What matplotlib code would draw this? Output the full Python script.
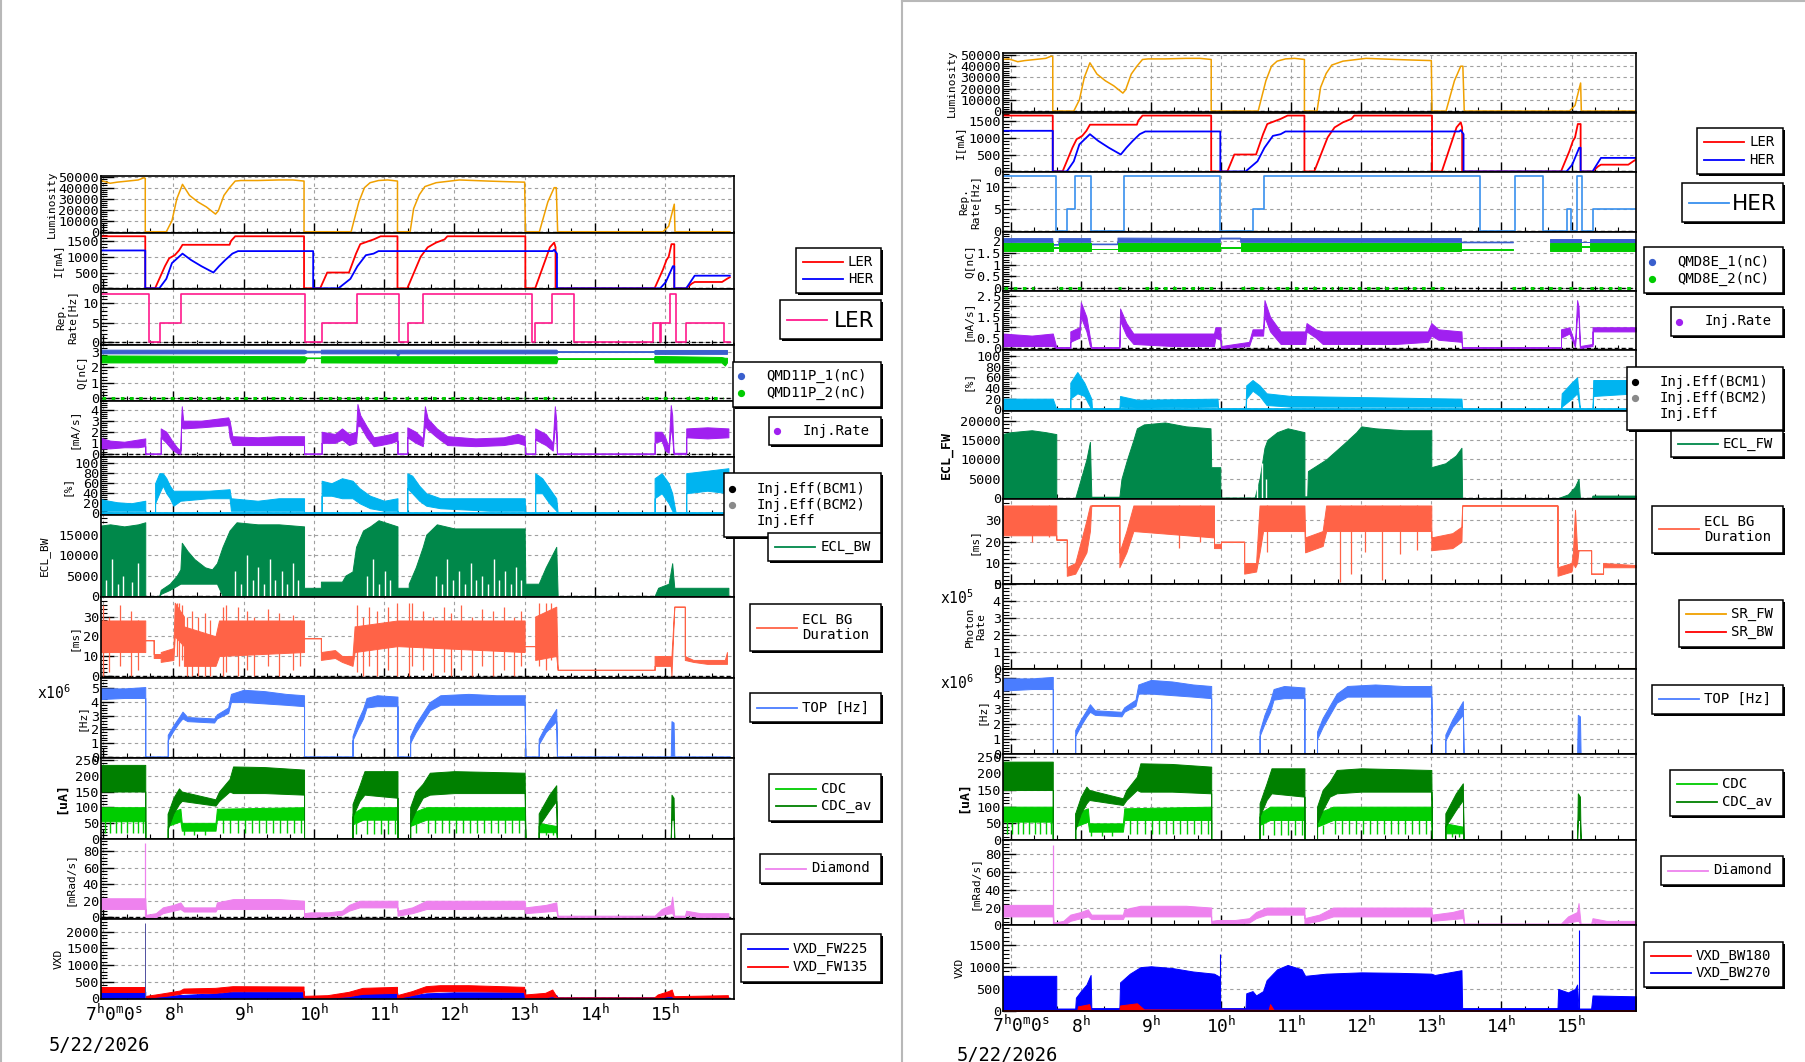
import numpy as np
import matplotlib
matplotlib.use("Agg")
import matplotlib.pyplot as plt
from matplotlib import font_manager
from matplotlib.ticker import MultipleLocator, AutoMinorLocator, NullFormatter, FuncFormatter, FixedLocator, FixedFormatter
from matplotlib.patches import Rectangle
from matplotlib.lines import Line2D

plt.rcParams['font.family'] = ['DejaVu Sans Mono']
plt.rcParams['mathtext.fontset'] = 'custom'
plt.rcParams['mathtext.rm'] = 'DejaVu Sans Mono'
plt.rcParams['mathtext.it'] = 'DejaVu Sans Mono'
plt.rcParams['mathtext.bf'] = 'DejaVu Sans Mono:bold'

nan = float('nan')

# ===================== data (time in hours, 5/22/2026) =====================
HOURS = [7, 8, 9, 10, 11, 12, 13, 14, 15]
DATE = "5/22/2026"

LUM = [(6.88, 46000), (6.97, 46500), (7.05, 45000), (7.10, 44000), (7.2, 45000), (7.35, 46000),
       (7.5, 47000), (7.58, 49000), (7.60, 48500), (7.60, 0),
       (7.90, 0), (7.98, 10000), (8.05, 30000), (8.13, 43000), (8.23, 33000), (8.35, 27000),
       (8.47, 22500), (8.60, 16000), (8.64, 19000), (8.72, 33000), (8.80, 40000), (8.88, 46000),
       (8.96, 46500), (9.2, 46500), (9.5, 47000), (9.7, 47000), (9.86, 46000), (9.86, 0),
       (10.53, 0), (10.64, 27000), (10.72, 40000), (10.80, 44500), (10.92, 46500), (11.05, 47000),
       (11.19, 46000), (11.19, 0),
       (11.37, 0), (11.42, 21000), (11.50, 33500), (11.58, 41000), (11.74, 44500), (12.07, 47000),
       (12.48, 46000), (12.72, 45500), (13.0, 45000), (13.01, 0),
       (13.21, 0), (13.33, 27000), (13.42, 40000), (13.45, 40000), (13.47, 0),
       (14.97, 0), (15.05, 5000), (15.09, 15000), (15.13, 25000), (15.14, 0), (15.92, 0)]

LER_I = [(6.88, 1650), (7.60, 1650), (7.60, 0), (7.74, 0), (7.80, 300), (7.88, 700), (7.94, 950),
         (8.02, 1050), (8.08, 1200), (8.13, 1380), (8.80, 1380), (8.82, 1500), (8.88, 1650),
         (9.86, 1650), (9.86, 0), (10.09, 0), (10.19, 500), (10.50, 500), (10.60, 1100),
         (10.66, 1400), (10.76, 1480), (10.85, 1550), (10.95, 1650), (11.19, 1650), (11.19, 0),
         (11.33, 0), (11.52, 1000), (11.62, 1300), (11.74, 1450), (11.86, 1550), (11.90, 1650),
         (13.01, 1650), (13.01, 0), (13.15, 0), (13.36, 1300), (13.42, 1450), (13.44, 1300),
         (13.44, 0), (14.85, 0), (14.97, 600), (15.02, 900), (15.05, 1000), (15.09, 1400),
         (15.13, 1400), (15.13, 0), (15.30, 0), (15.38, 150), (15.42, 200), (15.81, 200),
         (15.88, 300), (15.92, 350)]

HER_I = [(6.88, 1200), (7.60, 1200), (7.60, 0), (7.80, 0), (7.90, 300), (7.98, 800), (8.13, 1100),
         (8.25, 900), (8.40, 700), (8.57, 500), (8.65, 700), (8.74, 900), (8.84, 1100), (8.92, 1180),
         (9.99, 1180), (9.99, 0), (10.35, 0), (10.52, 300), (10.62, 700), (10.74, 1050),
         (10.85, 1100), (10.92, 1180), (13.40, 1180), (13.42, 1220), (13.46, 1100), (13.46, 0),
         (14.93, 0), (15.01, 200), (15.11, 700), (15.13, 700), (15.13, 0), (15.30, 0),
         (15.42, 400), (15.92, 400)]

REP_LER_T = [6.88, 7.66, 7.81, 8.11, 9.88, 10.12, 10.62, 11.21, 11.34, 11.56, 13.11, 13.15,
             13.39, 13.70, 14.82, 14.92, 14.94, 15.07, 15.16, 15.29, 15.84, 15.92]
REP_LER_V = [12.5, 0, 5, 12.5, 0, 5, 12.5, 0, 5, 12.5, 0, 5, 12.5, 0, 5, 0, 5, 12.5, 0, 5, 0, 0]

REP_HER_T = [6.88, 7.65, 7.81, 7.91, 8.15, 8.61, 9.99, 10.46, 10.62, 13.70, 14.19, 14.59,
             14.94, 14.99, 15.08, 15.15, 15.31, 15.92]
REP_HER_V = [12.5, 0, 5, 12.5, 0, 12.5, 0, 5, 12.5, 0, 12.5, 0, 5, 0, 12.5, 0, 5, 5]

# Q of QMD11P (left) : (t, low, high)
Q11_1 = [(6.88, 2.88, 3.12), (9.86, 2.88, 3.12), (9.9, 2.95, 3.05), (10.1, 2.95, 3.05),
         (10.1, 2.88, 3.12), (11.17, 2.88, 3.12), (11.19, 2.7, 3.1), (11.22, 2.88, 3.12),
         (13.45, 2.88, 3.12), (13.47, 2.98, 3.02), (14.84, 2.98, 3.02), (14.85, 2.85, 3.1),
         (15.88, 2.85, 3.1)]
Q11_2 = [(6.88, 2.3, 2.75), (9.86, 2.3, 2.7), (9.9, 2.58, 2.62), (10.1, 2.58, 2.62),
         (10.1, 2.3, 2.7), (13.45, 2.25, 2.7), (13.47, 2.53, 2.57), (14.84, 2.53, 2.57),
         (14.85, 2.3, 2.72), (15.8, 2.3, 2.65), (15.85, 2.1, 2.6), (15.88, 2.3, 2.6)]
Q11_ZERO = [(6.99, 7.57), (7.70, 9.86), (10.07, 11.17), (11.29, 13.0), (13.13, 13.42),
            (14.72, 15.13), (15.3, 15.83)]

# Q of QMD8E (right)
Q8_1 = [(6.88, 1.94, 2.1), (7.60, 1.94, 2.1), (7.60, 1.82, 1.85), (7.69, 1.82, 1.85),
        (7.69, 1.94, 2.1), (8.14, 1.94, 2.1), (8.14, 1.84, 1.87), (8.53, 1.84, 1.87),
        (8.53, 1.94, 2.12), (9.99, 1.94, 2.1), (9.99, 2.08, 2.12), (10.28, 2.08, 2.12),
        (10.28, 1.94, 2.1), (13.43, 1.94, 2.1), (13.43, 1.92, 1.95), (14.17, 1.92, 1.95),
        (14.17, nan, nan), (14.70, nan, nan), (14.70, 1.94, 2.1), (15.14, 1.94, 2.1),
        (15.14, 1.94, 1.97), (15.27, 1.94, 1.97), (15.27, 1.94, 2.1), (15.92, 1.94, 2.1)]
Q8_2 = [(6.88, 1.58, 1.92), (7.60, 1.58, 1.92), (7.60, 1.71, 1.74), (7.69, 1.71, 1.74),
        (7.69, 1.58, 1.92), (8.14, 1.58, 1.92), (8.14, 1.64, 1.67), (8.53, 1.64, 1.67),
        (8.53, 1.58, 1.92), (9.99, 1.58, 1.92), (9.99, 1.71, 1.74), (10.28, 1.71, 1.74),
        (10.28, 1.58, 1.92), (13.43, 1.58, 1.92), (13.43, 1.62, 1.65), (14.17, 1.62, 1.65),
        (14.17, nan, nan), (14.70, nan, nan), (14.70, 1.58, 1.92), (15.14, 1.58, 1.92),
        (15.14, 1.74, 1.77), (15.27, 1.74, 1.77), (15.27, 1.58, 1.9), (15.92, 1.58, 1.9)]
Q8_ZERO = [(6.90, 7.33), (7.69, 8.02), (8.53, 8.58), (8.92, 9.95), (10.28, 10.61),
           (10.78, 11.6), (11.68, 13.2), (14.15, 14.85), (14.97, 15.14), (15.27, 15.92)]

# injection rate [mA/s]
IR_L = [(6.88, 0.5, 1.6), (7.1, 0.5, 1.2), (7.3, 0.6, 1.1), (7.5, 0.6, 1.3), (7.6, 0.7, 1.4),
        (7.6, 0, 0.05), (7.82, 0, 0.05), (7.82, 1.5, 2.3), (7.9, 1.0, 2.0), (7.98, 0.4, 1.2),
        (8.05, 0.1, 0.6), (8.1, 0, 0.3), (8.11, 2.3, 3.0), (8.12, 2.4, 4.3), (8.14, 2.3, 3.0),
        (8.4, 2.4, 3.0), (8.78, 2.6, 3.3), (8.80, 1.5, 3.0), (8.84, 0.8, 1.6), (9.2, 0.8, 1.5),
        (9.5, 0.8, 1.6), (9.86, 0.8, 1.6), (9.86, 0, 0.05), (10.11, 0, 0.05), (10.11, 1.0, 2.0),
        (10.3, 1.0, 1.8), (10.4, 1.3, 2.3), (10.5, 0.8, 1.8), (10.6, 1.0, 2.0), (10.62, 2.5, 4.5),
        (10.66, 2.5, 3.5), (10.75, 1.5, 2.5), (10.85, 0.7, 1.5), (10.95, 0.8, 1.6),
        (11.1, 1.0, 1.8), (11.19, 1.2, 2.0), (11.19, 0, 0.05), (11.33, 0, 0.05),
        (11.33, 1.5, 2.4), (11.45, 1.0, 2.0), (11.55, 0.7, 1.4), (11.58, 2.5, 4.3),
        (11.62, 2.2, 3.2), (11.75, 1.5, 2.3), (11.9, 0.8, 1.6), (12.3, 0.7, 1.4),
        (12.7, 0.8, 1.5), (12.9, 1.0, 1.8), (13.0, 0.8, 1.6), (13.01, 0, 0.05), (13.15, 0, 0.05),
        (13.15, 1.3, 2.3), (13.3, 0.8, 1.8), (13.4, 0.3, 1.0), (13.43, 2.5, 4.3),
        (13.45, 2.0, 3.0), (13.46, 0, 0.05), (14.85, 0, 0.05), (14.85, 1.0, 2.0),
        (14.95, 1.2, 2.0), (15.0, 0.3, 1.5), (15.05, 0.1, 0.6), (15.08, 2.5, 4.4),
        (15.1, 1.5, 3.5), (15.12, 0, 0.1), (15.3, 0, 0.1), (15.3, 1.5, 2.3), (15.6, 1.4, 2.4),
        (15.9, 1.5, 2.3)]
IR_R = [(6.88, 0.1, 0.7), (7.3, 0.1, 0.6), (7.6, 0.1, 0.7), (7.65, 0, 0.05), (7.85, 0, 0.05),
        (7.85, 0.3, 0.8), (7.98, 0.5, 1.0), (8.0, 1.5, 2.2), (8.08, 0.8, 1.5), (8.13, 0.1, 0.5),
        (8.15, 0, 0.05), (8.55, 0, 0.05), (8.56, 1.3, 1.9), (8.65, 0.6, 1.2), (8.75, 0.2, 0.7),
        (9.3, 0.1, 0.7), (9.9, 0.1, 0.7), (9.92, 0.5, 1.0), (9.99, 0.4, 1.0), (10.0, 0, 0.1),
        (10.4, 0.1, 0.3), (10.45, 0.6, 0.9), (10.6, 0.6, 0.9), (10.62, 1.5, 2.3),
        (10.7, 0.8, 1.5), (10.85, 0.2, 0.8), (11.2, 0.2, 0.8), (11.22, 0.8, 1.2),
        (11.35, 0.5, 0.9), (11.45, 0.2, 0.8), (12.5, 0.2, 0.8), (12.95, 0.3, 0.8),
        (13.0, 0.6, 1.2), (13.1, 0.4, 0.9), (13.43, 0.3, 0.8), (13.44, 0, 0.05),
        (14.85, 0, 0.05), (14.85, 0.5, 0.9), (14.97, 0.7, 1.0), (15.05, 0.05, 0.2),
        (15.08, 1.6, 2.3), (15.1, 1.5, 2.0), (15.12, 0, 0.1), (15.3, 0.1, 0.2),
        (15.3, 0.8, 1.0), (15.92, 0.8, 1.0)]

# injection efficiency [%]
IE_L = [(6.88, 5, 30), (7.2, 5, 22), (7.4, 5, 20), (7.6, 5, 25), (7.6, 0, 1), (7.74, 0, 1),
        (7.74, 20, 60), (7.80, 40, 80), (7.85, 55, 80), (7.9, 40, 70), (7.95, 30, 55),
        (8.0, 15, 45), (8.1, 25, 45), (8.5, 30, 45), (8.8, 30, 48), (8.82, 5, 30), (9.2, 5, 25),
        (9.5, 5, 30), (9.86, 5, 30), (9.86, 0, 1), (10.11, 0, 1), (10.11, 35, 65),
        (10.25, 35, 60), (10.4, 30, 70), (10.55, 30, 65), (10.65, 20, 50), (10.8, 10, 35),
        (11.0, 5, 25), (11.19, 5, 30), (11.19, 0, 1), (11.33, 0, 1), (11.33, 50, 80),
        (11.4, 40, 75), (11.5, 25, 55), (11.6, 15, 40), (11.8, 10, 30), (12.5, 5, 30),
        (13.0, 5, 30), (13.01, 0, 1), (13.15, 0, 1), (13.15, 40, 80), (13.25, 40, 70),
        (13.35, 20, 50), (13.45, 5, 30), (13.47, 0, 1), (14.85, 0, 1), (14.85, 30, 70),
        (14.95, 40, 80), (15.05, 20, 60), (15.1, 5, 40), (15.15, 0, 1), (15.3, 0, 1),
        (15.3, 40, 80), (15.6, 45, 85), (15.9, 40, 90)]
IE_R = [(6.88, 0, 20), (7.6, 0, 20), (7.65, 0, 1), (7.85, 0, 1), (7.85, 20, 50), (7.95, 30, 70),
        (8.05, 25, 50), (8.15, 0, 20), (8.16, 0, 1), (8.55, 0, 1), (8.56, 5, 25), (8.8, 3, 18),
        (9.95, 5, 20), (9.96, 0, 1), (10.35, 0, 1), (10.36, 20, 45), (10.45, 35, 55),
        (10.55, 25, 45), (10.65, 8, 30), (11.0, 5, 25), (13.43, 5, 20), (13.44, 0, 1),
        (14.85, 0, 1), (14.86, 5, 30), (15.0, 20, 50), (15.08, 30, 60), (15.12, 0, 1),
        (15.3, 0, 1), (15.31, 25, 55), (15.92, 30, 55)]

# ECL
ECL_BW = [(6.88, 0, 17000), (7.1, 0, 17500), (7.3, 0, 17000), (7.5, 0, 17500), (7.6, 0, 18000),
          (7.6, 0, 0), (7.80, 0, 0), (7.82, 500, 1500), (7.95, 1500, 3000), (8.05, 2500, 5000),
          (8.10, 3000, 6500), (8.12, 3000, 13000), (8.2, 3000, 11000), (8.3, 3000, 9000),
          (8.45, 3000, 7000), (8.55, 3000, 6500), (8.62, 3000, 8000), (8.7, 0, 12000),
          (8.8, 0, 16000), (8.9, 0, 18000), (9.2, 0, 17500), (9.5, 0, 17500), (9.86, 0, 17000),
          (9.86, 0, 2000), (10.1, 0, 2000), (10.1, 0, 3500), (10.4, 0, 3500), (10.45, 0, 5000),
          (10.55, 0, 6000), (10.6, 0, 12000), (10.7, 0, 16000), (10.8, 0, 17000),
          (10.92, 0, 18500), (11.19, 0, 17000), (11.19, 0, 2000), (11.35, 0, 2000),
          (11.35, 0, 3000), (11.45, 0, 7000), (11.55, 0, 12000), (11.6, 0, 15000),
          (11.75, 0, 17500), (12.0, 0, 16500), (12.5, 0, 16500), (13.0, 0, 16500),
          (13.01, 0, 3000), (13.2, 0, 3000), (13.3, 0, 7000), (13.45, 0, 12000), (13.47, 0, 0),
          (14.85, 0, 0), (14.9, 0, 2000), (15.05, 0, 3000), (15.1, 0, 8000), (15.13, 0, 2000),
          (15.3, 0, 2000), (15.9, 0, 2000)]
# white gaps seen inside the ECL_BW fill: (t, from, to)
ECL_BW_GAPS = [(7.04, 0, 4000), (7.12, 0, 9000), (7.21, 0, 3000), (7.29, 0, 5000), (7.41, 0, 3500),
               (7.49, 0, 8000), (8.88, 0, 6000), (8.96, 0, 3000), (9.05, 0, 10000), (9.13, 0, 4000),
               (9.21, 0, 7000), (9.29, 0, 3000), (9.37, 0, 9000), (9.45, 0, 4000), (9.54, 0, 6000),
               (9.62, 0, 3000), (9.70, 0, 8000), (9.78, 0, 4000), (10.76, 0, 5000), (10.84, 0, 9000),
               (10.92, 0, 3000), (11.01, 0, 6000), (11.09, 0, 4000), (11.74, 0, 5000),
               (11.82, 0, 3000), (11.90, 0, 9000), (11.98, 0, 4000), (12.07, 0, 6000),
               (12.15, 0, 3000), (12.23, 0, 8000), (12.31, 0, 4000), (12.39, 0, 5000),
               (12.48, 0, 3000), (12.56, 0, 9000), (12.64, 0, 4000), (12.72, 0, 6000),
               (12.80, 0, 3000), (12.88, 0, 7000), (12.95, 0, 4000)]
ECL_FW = [(6.88, 0, 16500), (7.0, 0, 17000), (7.3, 0, 17500), (7.5, 0, 17000), (7.65, 0, 16500),
          (7.65, 0, 0), (7.92, 0, 0), (8.0, 0, 5000), (8.08, 0, 10000), (8.13, 0, 14500),
          (8.15, 200, 400), (8.55, 200, 400), (8.58, 0, 5000), (8.66, 0, 10000),
          (8.75, 0, 15000), (8.8, 0, 18000), (8.9, 0, 19000), (9.2, 0, 19500), (9.5, 0, 18500),
          (9.85, 0, 18000), (9.86, 0, 8000), (9.99, 0, 8000), (9.99, 0, 200), (10.48, 0, 200),
          (10.55, 0, 5000), (10.62, 0, 13000), (10.66, 0, 15000), (10.8, 0, 17000),
          (10.95, 0, 18000), (11.19, 0, 17000), (11.19, 0, 500), (11.23, 0, 500),
          (11.24, 0, 7000), (11.5, 0, 10000), (11.75, 0, 14000), (11.93, 0, 17000),
          (12.0, 0, 18500), (12.2, 0, 18000), (12.6, 0, 17500), (13.0, 0, 17500),
          (13.0, 0, 8000), (13.2, 0, 9000), (13.35, 0, 11000), (13.43, 0, 13000),
          (13.44, 0, 0), (14.8, 0, 0), (14.95, 0, 1000), (15.05, 0, 3000), (15.1, 0, 5000),
          (15.12, 0, 0), (15.28, 0, 0), (15.3, 0, 700), (15.92, 0, 700)]
ECL_FW_GAPS = [(10.52, 0, 4000), (10.58, 0, 9000), (10.64, 0, 5000)]

# ECL BG duration [ms]
MS_L = [(6.88, 12, 28), (7.6, 12, 28), (7.6, 18, 18), (7.72, 18, 18), (7.72, 9, 11),
        (7.82, 9, 11), (7.82, 7, 12), (8.0, 8, 14), (8.02, 20, 37), (8.15, 15, 30),
        (8.15, 5, 25), (8.6, 5, 20), (8.65, 10, 28), (9.86, 12, 28), (9.86, 19, 19),
        (10.1, 19, 19), (10.1, 8, 12), (10.3, 9, 13), (10.4, 7, 10), (10.55, 5, 10),
        (10.58, 12, 25), (11.19, 15, 28), (13.0, 12, 28), (13.0, 15, 15), (13.15, 15, 15),
        (13.15, 8, 30), (13.45, 10, 35), (13.47, 3, 3), (14.85, 3, 3), (14.85, 5, 10),
        (15.08, 5, 10), (15.09, 0, 10), (15.13, 35, 35), (15.28, 35, 35), (15.28, 8, 10),
        (15.4, 7, 8), (15.6, 6, 8), (15.85, 6, 8), (15.88, 6, 12)]
MS_L_SPK = [(7.0, 0, 36), (7.08, 2, 30), (7.24, 5, 36), (7.4, 0, 33), (7.5, 3, 28), (8.05, 10, 37),
            (8.08, 5, 37), (8.12, 8, 36), (8.2, 0, 30), (8.27, 0, 33), (8.35, 0, 30),
            (8.45, 0, 32), (8.52, 0, 28), (8.7, 0, 35), (8.75, 2, 36), (8.92, 0, 35),
            (9.05, 3, 33), (9.15, 0, 30), (9.35, 5, 34), (9.5, 0, 32), (9.7, 3, 31),
            (9.8, 5, 28), (10.62, 2, 36), (10.7, 0, 30), (10.78, 5, 35), (10.9, 0, 33),
            (11.05, 3, 35), (11.18, 0, 37), (11.36, 0, 37), (11.4, 5, 37), (11.55, 3, 33),
            (11.7, 0, 30), (11.85, 2, 35), (11.95, 0, 32), (12.1, 3, 36), (12.25, 0, 30),
            (12.4, 5, 34), (12.55, 0, 33), (12.7, 3, 35), (12.85, 0, 30), (12.95, 5, 33),
            (13.2, 5, 37), (13.3, 3, 37), (13.38, 8, 37)]
MS_R = [(6.88, 23, 37), (7.65, 23, 37), (7.65, 21, 21), (7.8, 21, 21), (7.8, 4, 8), (7.92, 5, 10),
        (8.0, 10, 20), (8.08, 15, 30), (8.13, 25, 37), (8.15, 37, 37), (8.55, 37, 37),
        (8.55, 8, 15), (8.65, 15, 25), (8.75, 25, 37), (9.9, 22, 37), (9.9, 17, 19),
        (10.0, 17, 19), (10.0, 20, 20), (10.33, 20, 20), (10.33, 5, 10), (10.5, 6, 10),
        (10.55, 15, 37), (10.6, 25, 37), (11.19, 25, 37), (11.2, 15, 22), (11.45, 18, 25),
        (11.5, 25, 37), (13.0, 25, 37), (13.0, 16, 22), (13.3, 17, 24), (13.43, 20, 27),
        (13.44, 37, 37), (14.8, 37, 37), (14.8, 4, 8), (15.0, 6, 10), (15.02, 10, 15),
        (15.05, 8, 35), (15.08, 10, 16), (15.1, 16, 16), (15.28, 16, 16), (15.28, 5, 5),
        (15.45, 5, 5), (15.45, 8, 10), (15.92, 8, 9)]
MS_R_SPK = [(7.3, 20, 37), (7.55, 22, 37), (9.4, 17, 37), (9.7, 20, 37), (10.65, 15, 37),
            (11.7, 1, 37), (11.85, 5, 37), (12.05, 15, 37), (12.3, 2, 37), (12.55, 14, 37),
            (12.8, 16, 37)]

# photon rate (x1e5) - flat at 0
SR_FW = [(6.88, 0), (15.92, 0)]

# TOP [Hz] x1e6
TOP = [(6.88, 4.2, 5.0), (7.3, 4.3, 5.0), (7.6, 4.3, 5.1), (7.6, 0, 0), (7.92, 0, 0),
       (7.92, 1.2, 1.6), (8.0, 1.9, 2.3), (8.08, 2.5, 2.9), (8.13, 2.8, 3.3), (8.2, 2.6, 2.9),
       (8.58, 2.5, 2.8), (8.62, 2.8, 3.1), (8.78, 3.2, 3.6), (8.82, 4.0, 4.6), (9.0, 4.0, 4.9),
       (9.3, 3.9, 4.8), (9.6, 3.8, 4.6), (9.86, 3.7, 4.5), (9.86, 0, 0), (10.55, 0, 0),
       (10.55, 1.2, 1.5), (10.62, 2.0, 2.6), (10.7, 2.8, 3.5), (10.75, 3.6, 4.3),
       (10.9, 3.7, 4.5), (11.19, 3.7, 4.4), (11.19, 0, 0), (11.37, 0, 0), (11.37, 1.0, 1.5),
       (11.45, 1.8, 2.4), (11.55, 2.6, 3.2), (11.65, 3.4, 4.0), (11.8, 3.8, 4.5),
       (12.2, 3.8, 4.6), (12.6, 3.8, 4.5), (13.0, 3.8, 4.5), (13.01, 0, 0), (13.2, 0, 0),
       (13.2, 0.9, 1.3), (13.3, 1.8, 2.3), (13.45, 2.6, 3.5), (13.46, 0, 0), (15.08, 0, 0),
       (15.09, 0, 2.6), (15.12, 0, 2.5), (15.13, 0, 0), (15.92, 0, 0)]

# CDC [uA]
CDC = [(6.88, 55, 100), (7.6, 55, 100), (7.6, 0, 0), (7.92, 0, 0), (7.92, 40, 80), (8.1, 55, 95),
       (8.12, 25, 50), (8.6, 25, 50), (8.62, 60, 95), (9.86, 60, 100), (9.86, 0, 0),
       (10.55, 0, 0), (10.55, 45, 80), (10.7, 60, 100), (11.19, 60, 100), (11.19, 0, 0),
       (11.37, 0, 0), (11.37, 40, 80), (11.6, 60, 100), (13.0, 60, 100), (13.01, 0, 0),
       (13.2, 0, 0), (13.2, 20, 50), (13.45, 20, 40), (13.46, 0, 0), (15.92, 0, 0)]
CDC_SPK = [(6.95, 18, 60), (7.02, 18, 60), (7.1, 18, 60), (7.18, 18, 60), (7.26, 18, 60),
           (7.34, 18, 60), (7.42, 18, 60), (7.5, 18, 60), (7.57, 18, 60), (8.15, 12, 30),
           (8.3, 12, 30), (8.45, 12, 30), (8.7, 18, 62), (8.8, 18, 62), (8.92, 18, 62),
           (9.02, 18, 62), (9.12, 18, 62), (9.22, 18, 62), (9.32, 18, 62), (9.42, 18, 62),
           (9.52, 18, 62), (9.62, 18, 62), (9.72, 18, 62), (9.82, 18, 62), (10.6, 15, 50),
           (10.75, 15, 62), (10.85, 15, 62), (10.95, 15, 62), (11.05, 15, 62), (11.15, 15, 62),
           (11.45, 18, 45), (11.62, 18, 62), (11.72, 18, 62), (11.82, 18, 62), (11.92, 18, 62),
           (12.02, 18, 62), (12.12, 18, 62), (12.22, 18, 62), (12.32, 18, 62), (12.42, 18, 62),
           (12.52, 18, 62), (12.62, 18, 62), (12.72, 18, 62), (12.82, 18, 62), (12.92, 18, 62),
           (13.3, 10, 25), (13.4, 10, 25)]
CDC_AV = [(6.88, 150, 235), (7.6, 150, 235), (7.6, 0, 0), (7.92, 0, 0), (7.92, 30, 80),
          (8.0, 80, 130), (8.08, 110, 160), (8.12, 120, 150), (8.6, 105, 125), (8.65, 120, 150),
          (8.8, 150, 190), (8.85, 145, 230), (9.3, 145, 228), (9.86, 140, 220), (9.86, 0, 0),
          (10.55, 0, 0), (10.55, 70, 110), (10.65, 120, 170), (10.72, 140, 215),
          (11.19, 130, 215), (11.19, 0, 0), (11.37, 0, 0), (11.37, 50, 100), (11.45, 90, 150),
          (11.55, 130, 175), (11.65, 140, 210), (12.0, 145, 215), (13.0, 145, 210),
          (13.01, 0, 0), (13.2, 0, 0), (13.2, 40, 80), (13.35, 90, 140), (13.45, 120, 170),
          (13.46, 0, 0), (15.08, 0, 0), (15.09, 60, 140), (15.12, 60, 130), (15.13, 0, 0),
          (15.92, 0, 0)]

# Diamond [mRad/s]
DIAMOND = [(6.88, 10, 23), (7.6, 10, 23), (7.61, 0, 3), (7.75, 0, 5), (7.85, 5, 12),
           (8.0, 8, 15), (8.1, 10, 18), (8.15, 7, 12), (8.6, 7, 12), (8.62, 10, 18),
           (8.85, 10, 22), (9.5, 10, 22), (9.86, 10, 20), (9.86, 0, 5), (9.95, 0, 6),
           (10.2, 2, 6), (10.4, 3, 8), (10.5, 8, 15), (10.65, 12, 20), (11.19, 12, 20),
           (11.19, 2, 8), (11.4, 5, 12), (11.6, 10, 20), (12.0, 10, 20), (13.0, 10, 20),
           (13.01, 5, 12), (13.3, 7, 15), (13.45, 8, 18), (13.47, 0, 2), (14.85, 0, 2),
           (14.95, 3, 10), (15.08, 5, 15), (15.1, 5, 25), (15.13, 0, 2), (15.28, 0, 2),
           (15.3, 3, 8), (15.5, 0, 5), (15.9, 0, 5)]
DIAMOND_SPK = [(7.6, 0, 90)]

# VXD
VXD_FW225 = [(6.88, 0, 200), (7.6, 0, 200), (7.6, 0, 50), (7.75, 0, 50), (8.1, 0, 100),
             (8.6, 0, 150), (8.85, 0, 200), (9.86, 0, 200), (9.86, 0, 30), (10.5, 0, 50),
             (10.7, 0, 150), (11.19, 0, 150), (11.19, 0, 30), (11.6, 0, 150), (12.0, 0, 180),
             (13.0, 0, 180), (13.01, 0, 60), (13.45, 0, 100), (13.47, 0, 30), (14.85, 0, 30),
             (15.1, 0, 100), (15.13, 0, 30), (15.9, 0, 30)]
VXD_FW135 = [(6.88, 180, 350), (7.6, 180, 350), (7.6, nan, nan), (7.62, 0, 60), (7.75, 30, 100),
             (7.9, 60, 150), (8.1, 120, 220), (8.15, 150, 280), (8.6, 150, 300), (8.85, 200, 350),
             (9.86, 200, 340), (9.86, 0, 60), (10.2, 0, 80), (10.5, 50, 180), (10.7, 120, 300),
             (11.19, 150, 330), (11.19, 0, 80), (11.4, 80, 200), (11.6, 180, 350),
             (11.8, 200, 380), (12.2, 200, 380), (13.0, 180, 330), (13.01, 0, 100),
             (13.3, 20, 150), (13.4, 50, 250), (13.47, 0, 10), (14.85, 0, 10), (14.9, 0, 100),
             (15.05, 50, 200), (15.1, 50, 250), (15.13, 0, 50), (15.9, 0, 80)]
VXD_L_SPK = [(7.6, 0, 2250)]
VXD_BW270 = [(6.88, 0, 800), (7.65, 0, 800), (7.65, 0, 50), (7.92, 0, 50), (7.93, 0, 300),
             (8.0, 0, 450), (8.08, 0, 600), (8.14, 0, 820), (8.15, 0, 60), (8.55, 0, 60),
             (8.56, 0, 650), (8.7, 0, 850), (8.85, 0, 1000), (9.0, 0, 1020), (9.3, 0, 980),
             (9.6, 0, 900), (9.9, 0, 850), (9.98, 0, 780), (9.99, 0, 60), (10.35, 0, 60),
             (10.36, 0, 400), (10.45, 0, 450), (10.5, 0, 350), (10.6, 0, 450), (10.65, 0, 700),
             (10.8, 0, 950), (10.95, 0, 1050), (11.05, 0, 1000), (11.15, 0, 950),
             (11.2, 0, 800), (11.5, 0, 850), (12.0, 0, 880), (12.5, 0, 870), (13.0, 0, 850),
             (13.05, 0, 820), (13.43, 0, 930), (13.44, 0, 60), (14.8, 0, 60), (14.81, 0, 500),
             (14.95, 0, 420), (15.05, 0, 500), (15.08, 0, 600), (15.1, 0, 50), (15.28, 0, 50),
             (15.3, 0, 350), (15.92, 0, 330)]
VXD_BW270_SPK = [(9.99, 0, 1300), (15.1, 0, 1850)]
VXD_BW180 = [(6.88, 0, 10), (7.95, 0, 10), (7.96, 0, 100), (8.12, 0, 150), (8.14, 0, 10),
             (8.55, 0, 10), (8.56, 0, 120), (8.8, 0, 170), (8.9, 0, 30), (10.68, 0, 20),
             (10.7, 0, 150), (10.75, 0, 20), (15.92, 0, 10)]

# ===================== colours =====================
C_LUM = '#f0a000'
C_LER = '#ff0000'
C_HER = '#0000ff'
C_REPL = '#ff1a8c'
C_REPH = '#3890ee'
C_Q1 = '#3a5fcd'
C_Q2 = '#00cc00'
C_IR = '#a020f0'
C_IE = '#00b4f0'
C_ECL = '#00884a'
C_MS = '#ff6347'
C_TOP = '#4a7dff'
C_CDC = '#00cc00'
C_CDCAV = '#008000'
C_DIA = '#ee82ee'

# narrow font for the big ring legends, if available
try:
    font_manager.findfont('Liberation Sans Narrow', fallback_to_default=False)
    BIG_FAMILY, BIG_FS = 'Liberation Sans Narrow', 18.5
except Exception:
    BIG_FAMILY, BIG_FS = 'DejaVu Sans', 15.5

# ===================== figure =====================
W, H = 1806, 1062
fig = plt.figure(figsize=(W / 100, H / 100), dpi=100)
fig.patch.set_facecolor('white')


def fx(px):
    return px / W


def fy(py):
    return 1 - py / H


def arr(rows):
    return np.array(rows, dtype=float).T


def band(ax, rows, color, z=2, lw=0.7):
    t, lo, hi = arr(rows)
    ax.fill_between(t, lo, hi, facecolor=color, edgecolor=color, lw=lw, zorder=z)


def line(ax, rows, color, lw=1.2, z=3):
    t, v = arr(rows)
    ax.plot(t, v, color=color, lw=lw, zorder=z)


def spikes(ax, rows, color, lw=0.9, z=2):
    t, lo, hi = arr(rows)
    ax.vlines(t, lo, hi, color=color, lw=lw, zorder=z)


def zero_dots(ax, segs, y, color):
    for a, b in segs:
        ax.plot([a, b], [y, y], color=color, lw=2.2, ls=(0, (1.2, 1.8)), zorder=3)


fmt = FuncFormatter(lambda v, p: '%g' % v)


def style(ax, xlim, ylim, major, bottom=False):
    ax.set_xlim(*xlim)
    ax.set_ylim(*ylim)
    ax.yaxis.set_major_locator(MultipleLocator(major))
    ax.yaxis.set_minor_locator(AutoMinorLocator(5))
    ax.yaxis.set_major_formatter(fmt)
    ax.xaxis.set_major_locator(FixedLocator(HOURS))
    ax.xaxis.set_minor_locator(MultipleLocator(1 / 3))
    ax.tick_params(axis='y', which='major', direction='in', length=9, width=1,
                   labelsize=9.7, pad=1.5, left=True, right=False)
    ax.tick_params(axis='y', which='minor', direction='in', length=4.5, width=0.8,
                   left=True, right=False)
    ax.tick_params(axis='x', which='major', direction='in', length=7, width=1,
                   top=False, bottom=True, pad=3.5, labelsize=13)
    ax.tick_params(axis='x', which='minor', direction='in', length=3.5, width=0.8,
                   top=False, bottom=True)
    ax.grid(True, which='major', color='#a0a0a0', ls=(0, (3, 3)), lw=0.8)
    ax.set_axisbelow(True)
    ax.axhline(0, color='black', lw=1, ls=(0, (3, 2)), zorder=1)
    for s in ax.spines.values():
        s.set_linewidth(1.2)
        s.set_zorder(5)
    if bottom:
        ax.xaxis.set_major_formatter(FixedFormatter(
            ['' if h == 7 else r'$%d^{h}$' % h for h in HOURS]))
    else:
        ax.xaxis.set_major_formatter(NullFormatter())


def ylab(px, py, text, fs=8, bold=False):
    fig.text(fx(px), fy(py), text, rotation=90, ha='center', va='center', fontsize=fs,
             fontweight='bold' if bold else 'normal', multialignment='center')


def box(x0, y0, x1, y1):
    fig.add_artist(Rectangle((fx(x0 + 2), fy(y1 + 2)), (x1 - x0) / W, (y1 - y0) / H,
                             transform=fig.transFigure, facecolor='black',
                             edgecolor='none', zorder=20))
    fig.add_artist(Rectangle((fx(x0), fy(y1)), (x1 - x0) / W, (y1 - y0) / H,
                             transform=fig.transFigure, facecolor='white',
                             edgecolor='black', lw=1.1, zorder=21))


def legend(x0, y0, x1, y1, entries, fs=10.1):
    box(x0, y0, x1, y1)
    n = len(entries)
    for i, (kind, color, text) in enumerate(entries):
        yc = y0 + (y1 - y0) * (0.12 + 0.76 * (i + 0.5) / n) if n > 1 else (y0 + y1) / 2
        if kind == 'line':
            fig.add_artist(Line2D([fx(x0 + 7), fx(x0 + 47)], [fy(yc), fy(yc)], color=color,
                                  lw=1.3, transform=fig.transFigure, zorder=22))
            tx = x0 + 52
        else:
            if kind == 'marker':
                fig.add_artist(Line2D([fx(x0 + 8)], [fy(yc)], marker='o', ms=4.2, color=color,
                                      lw=0, transform=fig.transFigure, zorder=22))
            tx = x0 + 33
        fig.text(fx(tx), fy(yc), text, ha='left', va='center', fontsize=fs,
                 multialignment='left', linespacing=1.15, zorder=23)


def big_legend(x0, y0, x1, y1, color, text):
    box(x0, y0, x1, y1)
    yc = (y0 + y1) / 2
    fig.add_artist(Line2D([fx(x0 + 7), fx(x0 + 47)], [fy(yc), fy(yc)], color=color, lw=1.3,
                          transform=fig.transFigure, zorder=22))
    fig.text(fx(x1 - 6), fy(yc + 1), text, ha='right', va='center', fontsize=BIG_FS,
             family=BIG_FAMILY, zorder=23)


def make_axes(x0, x1, top, bot):
    return fig.add_axes([fx(x0), fy(bot), (x1 - x0) / W, (bot - top) / H])


# ---------------- LEFT column ----------------
LX0, LX1 = 101, 734
LXL = (6.97, 15.98)
LB = [176, 232.5, 288.7, 344.5, 400.7, 456.7, 514.5, 597, 677.5, 758, 838.5, 918.5, 999]
la = [make_axes(LX0, LX1, LB[i], LB[i + 1]) for i in range(12)]

ax = la[0]
style(ax, LXL, (-700, 50600), 10000)
line(ax, LUM, C_LUM, lw=1.1)
ax = la[1]
style(ax, LXL, (-13, 1770), 500)
line(ax, LER_I, C_LER, lw=1.3)
line(ax, HER_I, C_HER, lw=1.3)
ax = la[2]
style(ax, LXL, (-0.7, 13.8), 5)
ax.plot(REP_LER_T, REP_LER_V, color=C_REPL, lw=1.2, drawstyle='steps-post', zorder=3)
ax = la[3]
style(ax, LXL, (-0.15, 3.45), 1)
band(ax, Q11_1, C_Q1)
band(ax, Q11_2, C_Q2)
zero_dots(ax, Q11_ZERO, 0.05, C_Q2)
ax = la[4]
style(ax, LXL, (-0.25, 4.8), 1)
band(ax, IR_L, C_IR)
ax = la[5]
style(ax, LXL, (-2.5, 113), 20)
ax.plot([6.88, 15.92], [0.5, 0.5], color=C_IE, lw=2, zorder=2)
band(ax, IE_L, C_IE)
ax = la[6]
style(ax, LXL, (-250, 19900), 5000)
band(ax, ECL_BW, C_ECL)
spikes(ax, ECL_BW_GAPS, 'white', lw=1.0, z=2.5)
ax = la[7]
style(ax, LXL, (-0.9, 39.9), 10)
spikes(ax, MS_L_SPK, C_MS)
band(ax, MS_L, C_MS)
ax = la[8]
style(ax, LXL, (-0.1, 5.8), 1)
band(ax, TOP, C_TOP)
ax = la[9]
style(ax, LXL, (0, 257), 50)
band(ax, CDC, C_CDC)
spikes(ax, CDC_SPK, C_CDC, lw=1.0)
band(ax, CDC_AV, C_CDCAV)
ax = la[10]
style(ax, LXL, (-1.4, 95), 20)
band(ax, DIAMOND, C_DIA)
spikes(ax, DIAMOND_SPK, C_DIA)
ax = la[11]
style(ax, LXL, (-20, 2400), 500, bottom=True)
band(ax, VXD_FW225, C_HER)
band(ax, VXD_FW135, C_LER)
spikes(ax, VXD_L_SPK, '#5050a0', lw=0.7)

lcx = [51.7, 58.3, 66.7, 81.7, 73.3, 66.7, 44, 73.3, 81.7, 61.7, 70, 58.3]
ltx = ['Luminosity', 'I[mA]', 'Rep.\nRate[Hz]', 'Q[nC]', '[mA/s]', '[%]', 'ECL_BW', '[ms]',
       '[Hz]', '[uA]', '[mRad/s]', 'VXD']
for i in range(12):
    bold = ltx[i] == '[uA]'
    ylab(lcx[i], (LB[i] + LB[i + 1]) / 2, ltx[i], fs=9.5 if bold else 8, bold=bold)
fig.text(fx(37), fy(693), r'x10$^{6}$', ha='left', va='center', fontsize=10.5)
fig.text(fx(85), fy(1004), r'$7^{h}0^{m}0^{s}$', ha='left', va='top', fontsize=13)
fig.text(fx(49), fy(1036), DATE, ha='left', va='top', fontsize=13.5)

# ---------------- RIGHT column ----------------
RX0, RX1 = 1003, 1636
RXL = (6.89, 15.92)
RB = [53.3, 112.5, 172.3, 231.5, 290.5, 350.2, 410.8, 499.3, 584.3, 669.3, 754.3, 840,
      925.3, 1010.7]
ra = [make_axes(RX0, RX1, RB[i], RB[i + 1]) for i in range(13)]

ax = ra[0]
style(ax, RXL, (-1300, 51500), 10000)
line(ax, LUM, C_LUM, lw=1.1)
ax = ra[1]
style(ax, RXL, (-25, 1740), 500)
line(ax, LER_I, C_LER, lw=1.3)
line(ax, HER_I, C_HER, lw=1.3)
ax = ra[2]
style(ax, RXL, (-0.2, 13.3), 5)
ax.plot(REP_HER_T, REP_HER_V, color=C_REPH, lw=1.2, drawstyle='steps-post', zorder=3)
ax = ra[3]
style(ax, RXL, (-0.1, 2.4), 0.5)
band(ax, Q8_1, C_Q1)
band(ax, Q8_2, C_Q2)
zero_dots(ax, Q8_ZERO, 0.02, C_Q2)
ax = ra[4]
style(ax, RXL, (-0.1, 2.76), 0.5)
band(ax, IR_R, C_IR)
ax = ra[5]
style(ax, RXL, (-2.8, 111), 20)
ax.plot([6.88, 15.92], [0.5, 0.5], color=C_IE, lw=2, zorder=2)
band(ax, IE_R, C_IE)
ax = ra[6]
style(ax, RXL, (-260, 22500), 5000)
band(ax, ECL_FW, C_ECL)
spikes(ax, ECL_FW_GAPS, 'white', lw=1.0, z=2.5)
ax = ra[7]
style(ax, RXL, (0, 39.9), 10)
band(ax, MS_R, C_MS)
spikes(ax, MS_R_SPK, C_MS)
ax = ra[8]
style(ax, RXL, (0, 5.0), 1)
line(ax, SR_FW, C_LUM, lw=1.5)
ax = ra[9]
style(ax, RXL, (0, 5.6), 1)
band(ax, TOP, C_TOP)
ax = ra[10]
style(ax, RXL, (0, 257), 50)
band(ax, CDC, C_CDC)
spikes(ax, CDC_SPK, C_CDC, lw=1.0)
band(ax, CDC_AV, C_CDCAV)
ax = ra[11]
style(ax, RXL, (0, 96), 20)
band(ax, DIAMOND, C_DIA)
spikes(ax, DIAMOND_SPK, C_DIA)
ax = ra[12]
style(ax, RXL, (0, 1960), 500, bottom=True)
band(ax, VXD_BW270, C_HER)
spikes(ax, VXD_BW270_SPK, C_HER, lw=0.8)
band(ax, VXD_BW180, C_LER)

rcx = [951.7, 960, 969.7, 969.3, 967.3, 967.7, 946.7, 973.3, 975.8, 981.7, 963.3, 975, 960]
rtx = ['Luminosity', 'I[mA]', 'Rep.\nRate[Hz]', 'Q[nC]', '[mA/s]', '[%]', 'ECL_FW', '[ms]',
       'Photon\nRate', '[Hz]', '[uA]', '[mRad/s]', 'VXD']
for i in range(13):
    bold = rtx[i] in ('[uA]', 'ECL_FW')
    ylab(rcx[i], (RB[i] + RB[i + 1]) / 2, rtx[i], fs=9.5 if bold else 8, bold=bold)
fig.text(fx(940), fy(598), r'x10$^{5}$', ha='left', va='center', fontsize=10.5)
fig.text(fx(940), fy(683), r'x10$^{6}$', ha='left', va='center', fontsize=10.5)
fig.text(fx(992), fy(1015), r'$7^{h}0^{m}0^{s}$', ha='left', va='top', fontsize=13)
fig.text(fx(957), fy(1046), DATE, ha='left', va='top', fontsize=13.5)

# ---------------- legends ----------------
legend(795.7, 248.3, 880.7, 293.3, [('line', C_LER, 'LER'), ('line', C_HER, 'HER')])
big_legend(780.3, 300.3, 880.7, 339.3, C_REPL, 'LER')
legend(733.3, 361.7, 880.7, 406.7, [('marker', C_Q1, 'QMD11P_1(nC)'),
                                     ('marker', C_Q2, 'QMD11P_2(nC)')])
legend(769.3, 417.3, 880.7, 445, [('marker', C_IR, 'Inj.Rate')])
legend(724, 473.3, 880.7, 536.7, [('marker', 'black', 'Inj.Eff(BCM1)'),
                                   ('marker', '#8a8a8a', 'Inj.Eff(BCM2)'),
                                   ('none', None, 'Inj.Eff')])
legend(768.3, 533.3, 880.7, 561, [('line', C_ECL, 'ECL_BW')])
legend(750, 604, 881, 651, [('line', C_MS, 'ECL BG\nDuration')])
legend(750, 693, 881, 722, [('line', C_TOP, 'TOP [Hz]')])
legend(769, 774, 881, 821, [('line', C_CDC, 'CDC'), ('line', C_CDCAV, 'CDC_av')])
legend(759.5, 854, 881, 883, [('line', C_DIA, 'Diamond')])
legend(741, 934, 881, 982, [('line', C_HER, 'VXD_FW225'), ('line', C_LER, 'VXD_FW135')])

legend(1697.3, 128.3, 1782.7, 174, [('line', C_LER, 'LER'), ('line', C_HER, 'HER')])
big_legend(1682.3, 183.3, 1782.7, 222.3, C_REPH, 'HER')
legend(1644.3, 247.3, 1782.7, 293.3, [('marker', C_Q1, 'QMD8E_1(nC)'),
                                       ('marker', C_Q2, 'QMD8E_2(nC)')])
legend(1671.3, 307.3, 1782.7, 335.7, [('marker', C_IR, 'Inj.Rate')])
legend(1626.7, 366.7, 1782.7, 430, [('marker', 'black', 'Inj.Eff(BCM1)'),
                                     ('marker', '#8a8a8a', 'Inj.Eff(BCM2)'),
                                     ('none', None, 'Inj.Eff')])
legend(1670.7, 430.7, 1782.7, 457, [('line', C_ECL, 'ECL_FW')])
legend(1652, 506, 1783, 552.7, [('line', C_MS, 'ECL BG\nDuration')])
legend(1679.5, 600, 1783, 646.7, [('line', C_LUM, 'SR_FW'), ('line', C_LER, 'SR_BW')])
legend(1652, 685, 1783, 713.7, [('line', C_TOP, 'TOP [Hz]')])
legend(1670, 770, 1783, 816, [('line', C_CDC, 'CDC'), ('line', C_CDCAV, 'CDC_av')])
legend(1661.5, 856, 1783, 885, [('line', C_DIA, 'Diamond')])
legend(1643.6, 941.7, 1783, 987.3, [('line', C_LER, 'VXD_BW180'), ('line', C_HER, 'VXD_BW270')])

# canvas borders
fig.add_artist(Line2D([fx(1), fx(1)], [0, 1], color='#b8b8b8', lw=1.5, transform=fig.transFigure))
fig.add_artist(Line2D([fx(902), fx(902)], [0, 1], color='#b8b8b8', lw=1.5, transform=fig.transFigure))
fig.add_artist(Line2D([fx(902), 1], [fy(1), fy(1)], color='#b8b8b8', lw=1.5, transform=fig.transFigure))

fig.savefig('out.png', dpi=100, facecolor='white')
